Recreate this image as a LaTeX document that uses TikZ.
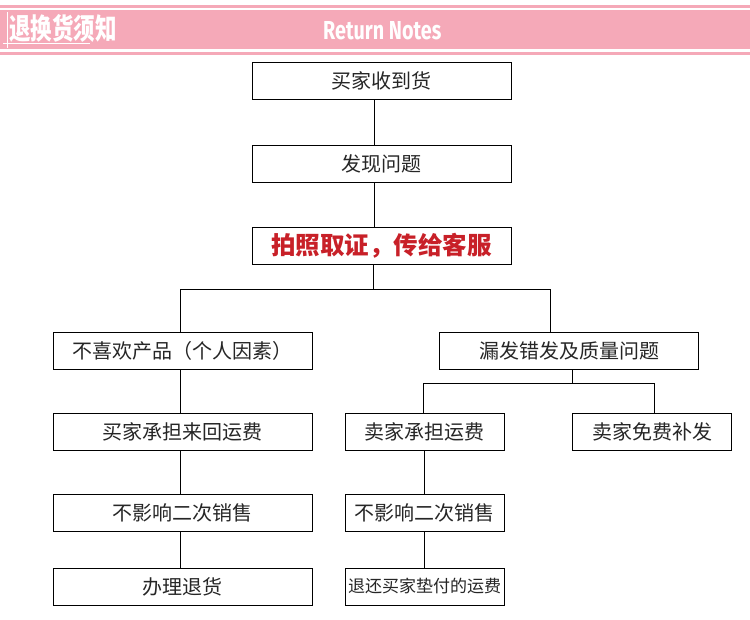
\documentclass[tikz,border=0pt]{standalone}
\usepackage{fontspec}
\newfontfamily\cjk{Noto Sans CJK SC}
\newfontfamily\latinhead{Fira Sans}
\definecolor{headpink}{RGB}{245,169,184}
\definecolor{redtxt}{RGB}{200,32,40}
\begin{document}
\begin{tikzpicture}[x=1pt,y=-1pt,
  box/.style={draw=black,line width=1pt,fill=white,inner sep=0pt,minimum height=37pt,font=\cjk\fontsize{20}{20}\selectfont,text=black!85},
  wide/.style={box,minimum width=259pt},
  narrow/.style={box,minimum width=159pt},
  link/.style={draw=black,line width=0.9pt}]
\useasboundingbox (0,0) rectangle (750,619);
\fill[white] (0,0) rectangle (750,619);
% header
\fill[headpink] (0,5) rectangle (750,7.5);
\fill[headpink] (0,10) rectangle (750,49);
\fill[headpink] (0,52) rectangle (750,54.5);
\draw[white,line width=0.8pt] (7.5,12) -- (7.5,48);
\draw[white,line width=0.8pt] (3,43.5) -- (90,43.5);
\node[anchor=west,inner sep=0pt,text=white] (title) at (9,28.5) {\scalebox{0.74}[1]{\cjk\bfseries\fontsize{29}{29}\selectfont 退换货须知}};
\node[anchor=west,inner sep=0pt,text=white] (rn) at (323,31) {\scalebox{0.76}[1]{\latinhead\bfseries\fontsize{26}{26}\selectfont Return Notes}};
% boxes
\node[wide] (b1) at (381.5,81) {买家收到货};
\node[wide] (b2) at (381.5,164) {发现问题};
\node[wide,text=redtxt,font=\cjk\bfseries\fontsize{24.5}{24.5}\selectfont] (b3) at (381.5,246) {拍照取证，传给客服};
\node[wide] (b4) at (182.5,350.5) {不喜欢产品（个人因素）};
\node[wide] (b5) at (569,350.5) {漏发错发及质量问题};
\node[wide] (b6) at (182.5,432) {买家承担来回运费};
\node[wide] (b7) at (182.5,513) {不影响二次销售};
\node[wide] (b8) at (182.5,586.5) {办理退货};
\node[narrow] (b9) at (424.5,432) {卖家承担运费};
\node[narrow] (b10) at (652,432) {卖家免费补发};
\node[narrow] (b11) at (424.5,513) {不影响二次销售};
\node[narrow,font=\cjk\fontsize{17}{17}\selectfont] (b12) at (424.5,586.5) {退还买家垫付的运费};
% connector helpers
\coordinate (s1) at (180,289);
\coordinate (s2) at (550,289);
\coordinate (t1) at (423,383);
\coordinate (t2) at (654,383);
% connectors
\draw[link] (b1.south -| 374,0) -- (b2.north -| 374,0);
\draw[link] (b2.south -| 374,0) -- (b3.north -| 374,0);
\draw[link] (b3.south -| 373,0) -- (373,289);
\draw[link] (b4.north -| s1) -- (s1) -- (s2) -- (b5.north -| s2);
\draw[link] (b5.south -| 572.5,0) -- (572.5,383);
\draw[link] (b9.north -| t1) -- (t1) -- (t2) -- (b10.north -| t2);
\draw[link] (b4.south -| 180,0) -- (b6.north -| 180,0);
\draw[link] (b6.south -| 180,0) -- (b7.north -| 180,0);
\draw[link] (b7.south -| 180,0) -- (b8.north -| 180,0);
\draw[link] (b9.south -| 424,0) -- (b11.north -| 424,0);
\draw[link] (b11.south -| 424,0) -- (b12.north -| 424,0);
\end{tikzpicture}
\end{document}
